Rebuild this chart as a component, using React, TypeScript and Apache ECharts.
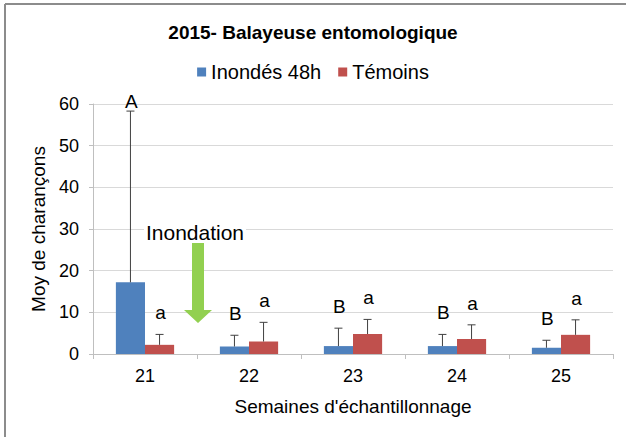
import React, { useEffect, useRef } from "react";
import * as echarts from "echarts";

const categories = ["21", "22", "23", "24", "25"];
const inondes = [17.2, 1.8, 1.9, 1.9, 1.5];
const inondesErr = [58.3, 4.5, 6.2, 4.7, 3.3];
const temoins = [2.2, 3.0, 4.8, 3.6, 4.6];
const temoinsErr = [4.7, 7.6, 8.3, 7.0, 8.2];
const lettersInondes = ["A", "B", "B", "B", "B"];
const lettersTemoins = ["a", "a", "a", "a", "a"];
const yMax = 60;

const FONT = "'Liberation Sans', Arial, sans-serif";

function errSeries(name: string, vals: number[], errs: number[], letters: string[], side: number) {
  return {
    type: "custom",
    name: name + "_err",
    silent: true,
    z: 5,
    data: vals.map((v, i) => [i, v, errs[i]]),
    renderItem: (params: any, api: any) => {
      const i = api.value(0);
      const base = api.coord([i, api.value(1)]);
      const top = api.coord([i, api.value(2)]);
      const bw = api.size([1, 0])[0];
      const x = base[0] + side * bw * 0.14;
      const plotTop = api.coord([i, yMax])[1];
      const ty = Math.max(top[1] - 12, plotTop + 7);
      return {
        type: "group",
        children: [
          { type: "line", shape: { x1: x, y1: base[1], x2: x, y2: top[1] }, style: { stroke: "#404040", lineWidth: 1 } },
          { type: "line", shape: { x1: x - 4, y1: top[1], x2: x + 4, y2: top[1] }, style: { stroke: "#404040", lineWidth: 1 } },
          {
            type: "text",
            style: {
              text: letters[i],
              x: x + 1,
              y: ty,
              align: "center",
              verticalAlign: "bottom",
              fontSize: 19,
              fontFamily: FONT,
              fill: "#000",
            },
          },
        ],
      };
    },
  };
}

export default function App() {
  const ref = useRef<HTMLDivElement>(null);
  useEffect(() => {
    const chart = echarts.init(ref.current!, null, { renderer: "svg" });
    chart.setOption({
      animation: false,
      backgroundColor: "#fff",
      textStyle: { fontFamily: FONT },
      title: {
        text: "2015- Balayeuse entomologique",
        left: "center",
        top: 18,
        textStyle: { fontSize: 19, fontWeight: "bold", color: "#000", fontFamily: FONT },
      },
      legend: {
        data: ["Inondés 48h", "Témoins"],
        top: 57,
        left: "center",
        itemWidth: 9,
        itemHeight: 9,
        itemGap: 17,
        icon: "rect",
        textStyle: { fontSize: 20, color: "#000", fontFamily: FONT },
      },
      grid: { left: 93, right: 13, top: 104, bottom: 83, containLabel: false },
      xAxis: {
        type: "category",
        data: categories,
        name: "Semaines d'échantillonnage",
        nameLocation: "middle",
        nameGap: 43,
        nameTextStyle: { fontSize: 19, color: "#000", fontFamily: FONT },
        axisLine: { lineStyle: { color: "#bfbfbf" } },
        axisTick: { show: true, length: 5, lineStyle: { color: "#bfbfbf" } },
        axisLabel: { fontSize: 18, color: "#000", margin: 13, fontFamily: FONT },
      },
      yAxis: {
        type: "value",
        min: 0,
        max: yMax,
        interval: 10,
        name: "Moy de charançons",
        nameLocation: "middle",
        nameGap: 44,
        nameTextStyle: { fontSize: 19, color: "#000", fontFamily: FONT },
        axisLine: { show: true, lineStyle: { color: "#bfbfbf" } },
        axisTick: { show: true, length: 4, lineStyle: { color: "#bfbfbf" } },
        splitLine: { lineStyle: { color: "#d9d9d9" } },
        axisLabel: { fontSize: 18, color: "#000", margin: 14, fontFamily: FONT },
      },
      series: [
        {
          name: "Inondés 48h",
          type: "bar",
          data: inondes,
          barGap: "0%",
          barCategoryGap: "44%",
          itemStyle: { color: "#4f81bd" },
        },
        {
          name: "Témoins",
          type: "bar",
          data: temoins,
          barGap: "0%",
          barCategoryGap: "44%",
          itemStyle: { color: "#c0504d" },
        },
        errSeries("Inondés 48h", inondes, inondesErr, lettersInondes, -1),
        errSeries("Témoins", temoins, temoinsErr, lettersTemoins, 1),
      ],
      graphic: [
        { type: "line", shape: { x1: 5, y1: 4, x2: 626, y2: 4 }, style: { stroke: "#8c8c8c", lineWidth: 2 } },
        { type: "line", shape: { x1: 5, y1: 4, x2: 5, y2: 437 }, style: { stroke: "#8c8c8c", lineWidth: 2 } },
        {
          type: "rect",
          z: 10,
          shape: { x: 144, y: 222, width: 102, height: 20 },
          style: { fill: "#fff" },
        },
        {
          type: "polygon",
          z: 10,
          shape: {
            points: [
              [192, 243], [204, 243], [204, 310], [212, 310], [198, 323], [184, 310], [192, 310],
            ],
          },
          style: { fill: "#92d050" },
        },
        {
          type: "text",
          z: 11,
          x: 195,
          y: 232,
          style: {
            text: "Inondation",
            align: "center",
            verticalAlign: "middle",
            fontSize: 21,
            fontFamily: FONT,
            fill: "#000",
          },
        },
      ],
    });
    return () => chart.dispose();
  }, []);
  return <div ref={ref} style={{ width: 626, height: 437, position: "absolute", left: 0, top: 0 }} />;
}
